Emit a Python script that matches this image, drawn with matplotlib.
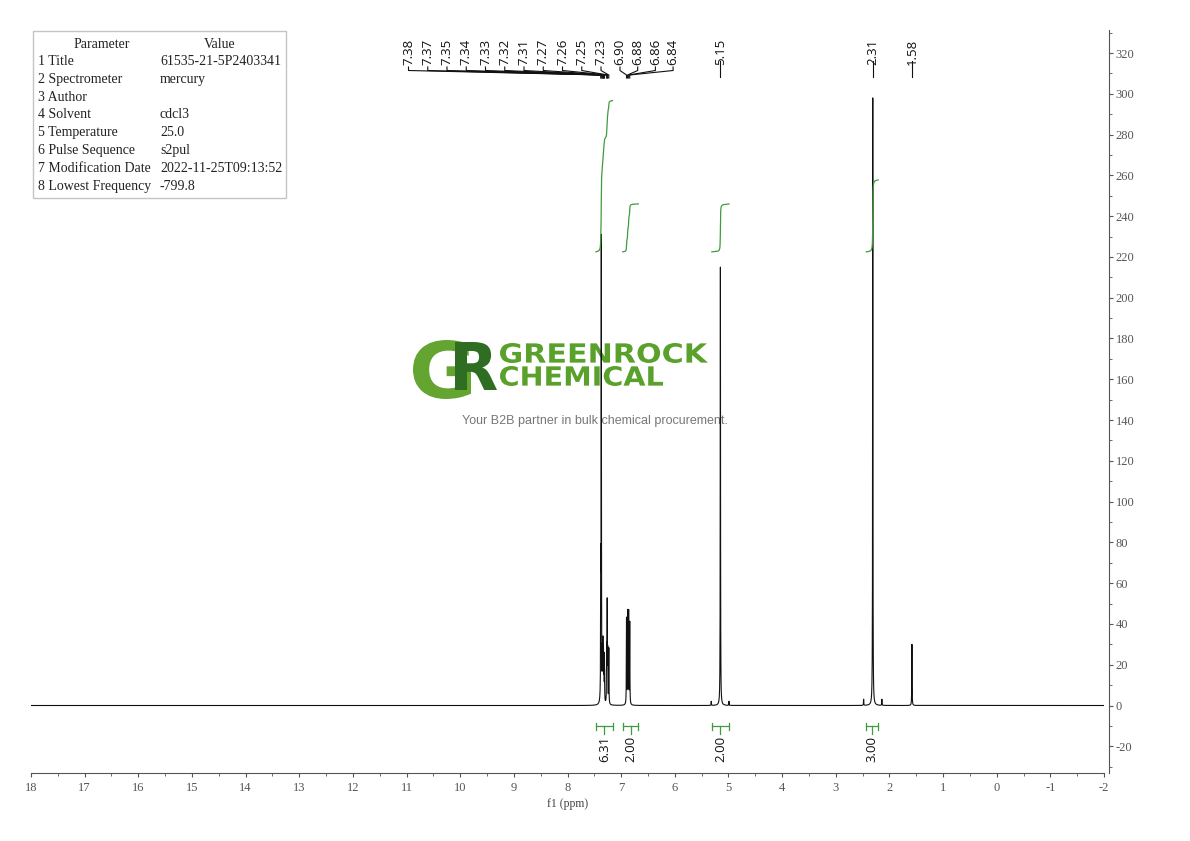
import numpy as np
import matplotlib
matplotlib.use('Agg')
import matplotlib.pyplot as plt
from matplotlib.textpath import TextPath
from matplotlib.font_manager import FontProperties
from matplotlib.patches import PathPatch, Rectangle
from matplotlib.transforms import Affine2D
from matplotlib.ticker import MultipleLocator

plt.rcParams['font.family'] = ['Liberation Serif', 'DejaVu Serif']
plt.rcParams['axes.unicode_minus'] = False

W, H = 1190, 841

# --- data ---
peak_ppm = [7.38, 7.37, 7.35, 7.34, 7.33, 7.32, 7.31, 7.27, 7.26, 7.25, 7.23,
            6.90, 6.88, 6.86, 6.84, 5.15, 2.31, 1.58,
            2.48, 2.14, 5.32, 4.99]
peak_height = [60, 225, 22, 27, 24, 21, 14, 26, 48, 24, 27,
               42, 45, 45, 40, 215, 298, 30,
               3, 3, 2, 2]
hwhm = 0.003

label_group1 = ['7.38', '7.37', '7.35', '7.34', '7.33', '7.32', '7.31',
                '7.27', '7.26', '7.25', '7.23']
label_group2 = ['6.90', '6.88', '6.86', '6.84']
label_single = ['5.15', '2.31', '1.58']

int_from = [7.47, 6.97, 5.31, 2.43]
int_to = [7.16, 6.68, 4.99, 2.21]
int_value = ['6.31', '2.00', '2.00', '3.00']

table_param = ['1 Title', '2 Spectrometer', '3 Author', '4 Solvent', '5 Temperature',
               '6 Pulse Sequence', '7 Modification Date', '8 Lowest Frequency']
table_value = ['61535-21-5P2403341', 'mercury', '', 'cdcl3', '25.0',
               's2pul', '2022-11-25T09:13:52', '-799.8']

# spectrum from the peak table
ppm = np.linspace(-2, 18, 40001)
spec = np.zeros_like(ppm)
for p, h in zip(peak_ppm, peak_height):
    spec += h * hwhm**2 / ((ppm - p)**2 + hwhm**2)

fig = plt.figure(figsize=(W / 100, H / 100), dpi=100)

# overlay in pixel coordinates, behind the spectrum
ov = fig.add_axes([0, 0, 1, 1], zorder=0)
ov.set_xlim(0, W)
ov.set_ylim(H, 0)
ov.axis('off')

ax = fig.add_axes([31 / W, (H - 773) / H, 1073 / W, (773 - 30) / H], zorder=1)
ax.patch.set_visible(False)
ax.plot(ppm, spec, color='#111111', lw=0.8)
ax.set_xlim(18, -2)
ax.set_ylim(-33.1, 331.3)

for s in ['top', 'left']:
    ax.spines[s].set_visible(False)
ax.spines['bottom'].set_color('#555555')
ax.spines['right'].set_color('#555555')
ax.spines['right'].set_position(('outward', 3.6))
ax.xaxis.set_major_locator(MultipleLocator(1))
ax.xaxis.set_minor_locator(MultipleLocator(0.5))
ax.yaxis.set_major_locator(MultipleLocator(20))
ax.yaxis.set_minor_locator(MultipleLocator(10))
ax.yaxis.tick_right()
ax.tick_params(which='both', direction='out', color='#555555', labelcolor='#555555', labelsize=9)
ax.tick_params(which='major', length=3.2)
ax.tick_params(which='minor', length=2)
ax.tick_params(axis='x', pad=3)
ax.tick_params(axis='y', pad=1.5)
ax.set_xlabel('f1 (ppm)', fontsize=8.5, color='#444444', labelpad=3)

green = '#3f9b3f'

# integral curves
for a, b, v in zip(int_from, int_to, int_value):
    m = (ppm <= a) & (ppm >= b)
    x = ppm[m][::-1]
    y = np.cumsum(spec[m][::-1])
    y = 222.5 + y / y[-1] * float(v) * 11.75
    ax.plot(x, y, color=green, lw=0.9)

def px(p):
    return ax.transData.transform((p, 0))[0]

lab_font = dict(family=['Open Sans', 'DejaVu Sans'], fontsize=9.5, color='#111111')

# grouped peak labels with connectors
for labels, x_start, step in [(label_group1, 408.5, 19.25), (label_group2, 620, 17.7)]:
    for i, t in enumerate(labels):
        lx = x_start + i * step
        pk = px(float(t))
        ov.text(lx, 39, t, rotation=90, rotation_mode='anchor', ha='right', va='center', **lab_font)
        ov.plot([lx, lx, pk, pk], [67, 70.5, 75, 78], color='#111111', lw=0.8)

for t in label_single:
    pk = px(float(t))
    ov.text(pk, 39, t, rotation=90, rotation_mode='anchor', ha='right', va='center', **lab_font)
    ov.plot([pk, pk], [61, 77], color='#111111', lw=0.8)

# integration brackets
for a, b, v in zip(int_from, int_to, int_value):
    xa, xb = px(a), px(b)
    xc = (xa + xb) / 2
    ov.plot([xa, xb], [726, 726], color=green, lw=0.9)
    ov.plot([xa, xa], [722.5, 729.5], color=green, lw=0.9)
    ov.plot([xb, xb], [722.5, 729.5], color=green, lw=0.9)
    ov.plot([xc, xc], [726, 734], color=green, lw=0.9)
    ov.text(xc, 736, v, rotation=90, rotation_mode='anchor', ha='right', va='center', **lab_font)

# parameter table
ov.add_patch(Rectangle((33, 31), 253, 167, fc='white', ec='#c4c4c4', lw=1))
tfont = dict(fontsize=10, color='#222222', va='center', family='Liberation Serif')
ov.text(102, 44, 'Parameter', ha='center', **tfont)
ov.text(220, 44, 'Value', ha='center', **tfont)
for k, (p, v) in enumerate(zip(table_param, table_value)):
    yy = 61.5 + 17.8 * k
    ov.text(38, yy, p, ha='left', **tfont)
    ov.text(160, yy, v, ha='left', **tfont)

# watermark logo
def text_box(s, box, color, family='DejaVu Sans'):
    tp = TextPath((0, 0), s, size=100, prop=FontProperties(family=family, weight='bold'))
    e = tp.get_extents()
    x0, y0, x1, y1 = box
    tr = Affine2D().translate(-e.x0, -e.y0).scale((x1 - x0) / e.width, -(y1 - y0) / e.height).translate(x0, y1)
    ov.add_patch(PathPatch(tr.transform_path(tp), fc=color, ec='none'))

text_box('G', (413, 340, 471, 399), '#64a532')
text_box('R', (455, 342, 497, 390), '#2f6d22')
text_box('GREENROCK', (500, 343, 708, 363), '#5aa12c')
text_box('CHEMICAL', (500, 366, 663, 386), '#5aa12c')
ov.text(594.5, 421, 'Your B2B partner in bulk chemical procurement.', ha='center', va='center',
        fontsize=9, color='#777777', family='Liberation Sans')

fig.savefig('out.png', dpi=100)
